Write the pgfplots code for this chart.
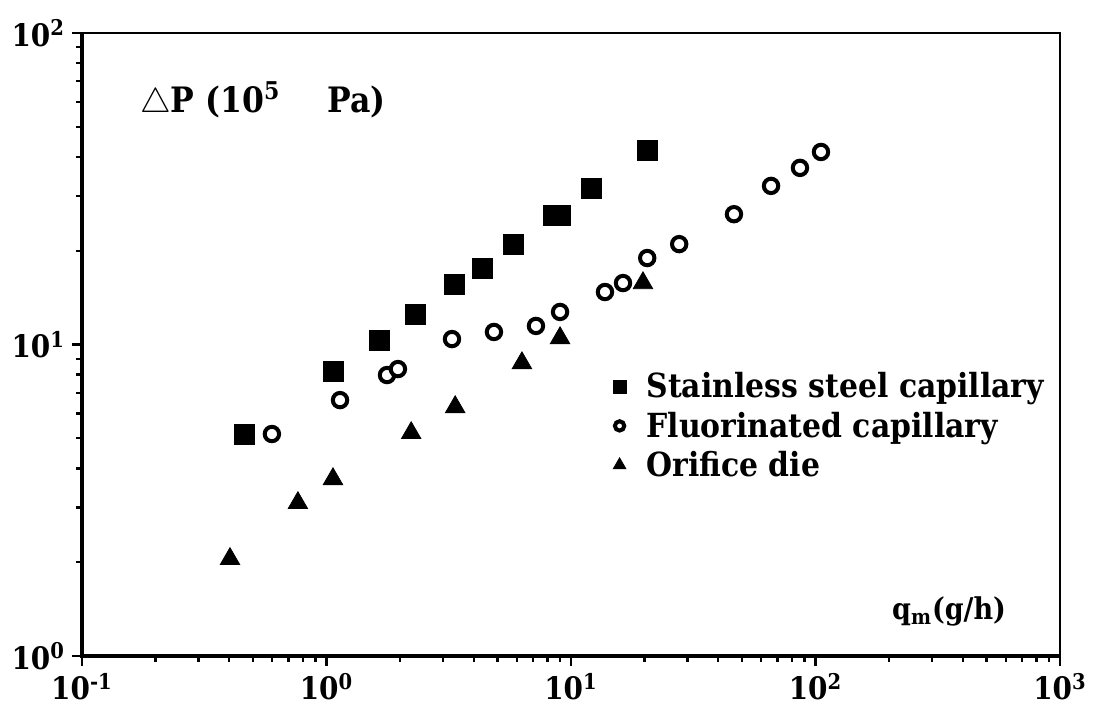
\documentclass[border=0pt]{standalone}
\usepackage{fontspec}
\setmainfont{DejaVu Serif Condensed}
\usepackage{pgfplots}
\pgfplotsset{compat=1.18}

% Pressure drop (10^5 Pa) against mass flow rate q_m (g/h)
\pgfplotstableread{
q      dp
0.460  5.16
1.063  8.22
1.64   10.34
2.32   12.53
3.32   15.63
4.33   17.6
5.79   20.9
8.44   26.0
9.02   26.0
12.07  31.6
20.5   42.1
}\steel
\pgfplotstableread{
q      dp
0.598  5.16
1.136  6.63
1.768  7.98
1.96   8.34
3.26   10.41
4.84   10.97
7.19   11.47
9.02   12.72
13.77  14.74
16.32  15.75
20.5   18.95
27.7   21.0
46.4   26.2
65.8   32.3
86.4   36.9
105.3  41.5
}\fluor
\pgfplotstableread{
q      dp
0.403  2.05
0.764  3.10
1.063  3.70
2.22   5.20
3.36   6.30
6.30   8.72
9.02   10.49
19.7   15.75
}\orifice

\begin{document}
\begin{tikzpicture}
\useasboundingbox (-41pt,-25.5pt) rectangle (508pt,328pt);
\begin{axis}[
  scale only axis, width=489pt, height=311.5pt,
  xmode=log, ymode=log,
  xmin=0.1, xmax=1000, ymin=1, ymax=100,
  axis line style={line width=1.4pt},
  xtick={0.1,1,10,100,1000},
  xticklabels={10\textsuperscript{-1},10\textsuperscript{0},10\textsuperscript{1},10\textsuperscript{2},10\textsuperscript{3}},
  ytick={1,10,100},
  yticklabels={10\textsuperscript{0},10\textsuperscript{1},10\textsuperscript{2}},
  minor xtick={0.2,0.3,0.4,0.5,0.6,0.7,0.8,0.9,2,3,4,5,6,7,8,9,20,30,40,50,60,70,80,90,200,300,400,500,600,700,800,900},
  minor ytick={2,3,4,5,6,7,8,9,20,30,40,50,60,70,80,90},
  xtick pos=left, ytick pos=left,
  tick align=outside,
  major tick length=5pt, minor tick length=3pt,
  tick style={black, line width=1.2pt},
  ticklabel style={font=\fontsize{15.5}{15.5}\selectfont\bfseries},
  legend style={at={(0.537,0.462)}, anchor=north west, draw=none, fill=none,
    font=\fontsize{16.6}{18}\selectfont\bfseries, row sep=1.5pt,
    inner sep=0pt},
  legend cell align=left,
  legend image code/.code={%
    \path[draw=none, fill=none] (0pt,0pt) rectangle (17.5pt,0.1pt);
    \draw[only marks] plot coordinates {(6pt,0pt)};},
  legend image post style={every mark/.append style={scale=0.65}},
  clip=false,
]
\addplot[only marks, mark=square*, mark size=5pt, black] table[x=q,y=dp] {\steel};
\addlegendentry{Stainless steel capillary}
\addplot[only marks, mark=*, mark size=3.6pt, mark options={fill=white, draw=black, line width=2pt}] table[x=q,y=dp] {\fluor};
\addlegendentry{Fluorinated capillary}
\addplot[only marks, mark=triangle*, mark size=5.6pt, black] table[x=q,y=dp] {\orifice};
\addlegendentry{Orifice die}

\draw[line width=2pt] (rel axis cs:0,1) -- (rel axis cs:0,0) -- (rel axis cs:1,0);
\node[anchor=base west, font=\fontsize{17.5}{17.5}\selectfont\bfseries, inner sep=0pt]
  at (rel axis cs:0.059,0.873) {$\triangle$P (10\textsuperscript{5}\hspace{1.35em}Pa)};
\node[anchor=base west, font=\fontsize{15}{15}\selectfont\bfseries, inner sep=0pt]
  at (rel axis cs:0.828,0.058) {q\textsubscript{m}(g/h)};
\end{axis}
\end{tikzpicture}
\end{document}
